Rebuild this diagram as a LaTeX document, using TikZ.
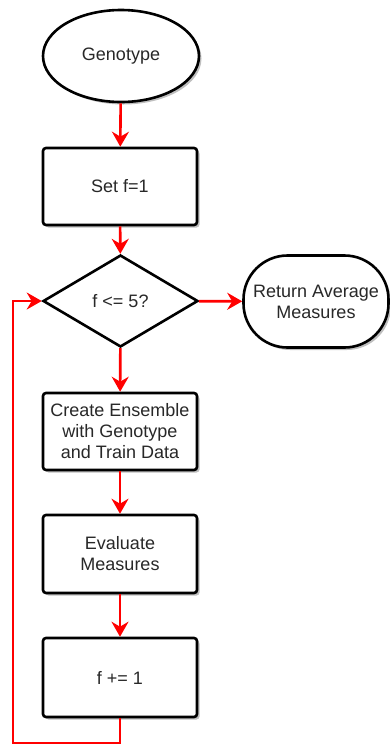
\documentclass[tikz,border=0pt]{standalone}
\usepackage{fontspec}
\setmainfont{Liberation Sans}
\usetikzlibrary{shapes.geometric,arrows.meta,shadows}
\definecolor{flowred}{RGB}{255,0,0}
\definecolor{txt}{RGB}{40,40,40}
\begin{document}
\begin{tikzpicture}[x=1pt,y=-1pt,
  base/.style={draw=black, line width=2.6pt, fill=white, text=txt,
    font=\fontsize{18}{21}\selectfont, align=center, inner sep=0pt,
    drop shadow={shadow xshift=2.5pt, shadow yshift=-2.5pt, opacity=0.25, fill=black}},
  procbox/.style={base, rectangle, rounded corners=3pt, minimum width=154pt},
  termnode/.style={base, ellipse, minimum width=156pt, minimum height=92pt},
  endbox/.style={base, rectangle, rounded corners=44pt, minimum width=145pt, minimum height=92pt},
  decision/.style={draw=black, line width=2.6pt, fill=white, text=txt,
    font=\fontsize{18}{21}\selectfont, diamond, inner sep=0pt,
    minimum width=155pt, minimum height=92pt},
  flow/.style={draw=flowred, line width=2.6pt,
    -{Stealth[length=15pt, width=17pt, inset=5pt]}}
]
\useasboundingbox (0,0) rectangle (390,745);

\node[termnode] (gen) at (121,56) {Genotype};
\node[procbox, minimum height=77pt] (set) at (120,186.5) {Set f=1};
\node[decision] (dec) at (120.5,301) {f <= 5?};
\node[endbox] (ret) at (316,301.5) {Return Average\\Measures};
\node[procbox, minimum height=77pt] (ens) at (120,431.5) {Create Ensemble\\with Genotype\\and Train Data};
\node[procbox, minimum height=78pt] (eval) at (120,554) {Evaluate\\Measures};
\node[procbox, minimum height=79pt] (inc) at (120,677.5) {f += 1};

\coordinate (loop) at (13,743);

\draw[flow] (gen) -- (set);
\draw[flow] (set) -- (dec);
\draw[flow] (dec) -- (ret);
\draw[flow] (dec) -- (ens);
\draw[flow] (ens) -- (eval);
\draw[flow] (eval) -- (inc);
\draw[flow] (inc.south) |- (loop) |- (dec.west);
\end{tikzpicture}
\end{document}
